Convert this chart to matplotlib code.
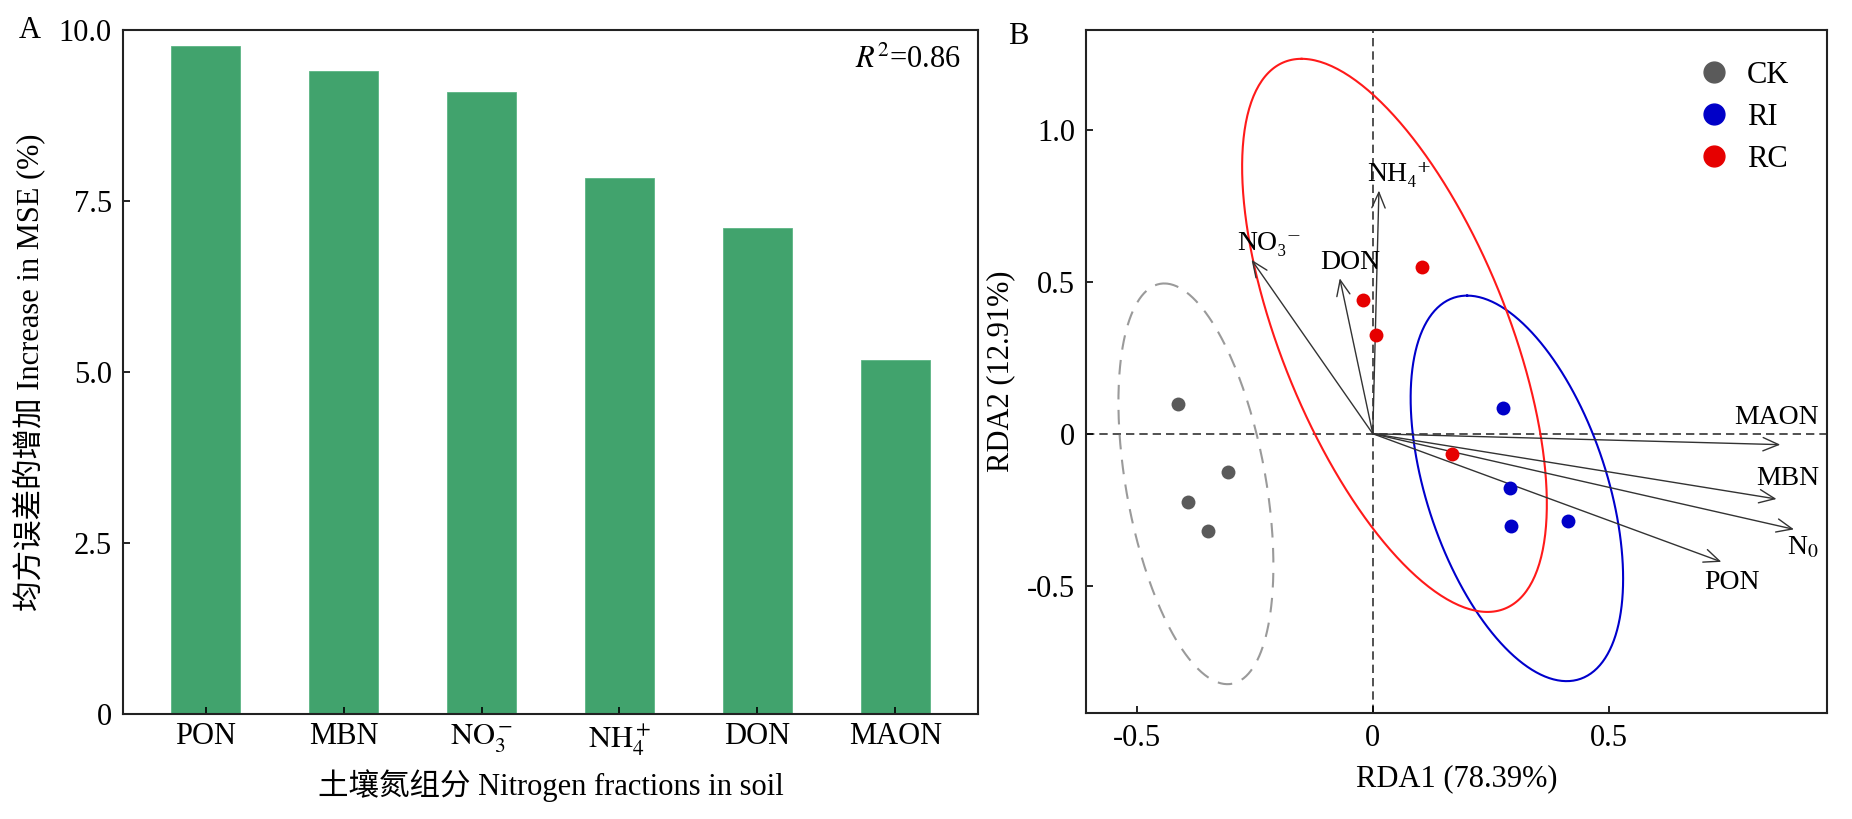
import matplotlib
matplotlib.use("Agg")
import matplotlib.pyplot as plt
from matplotlib.lines import Line2D
import numpy as np

plt.rcParams['font.family'] = ['Liberation Serif', 'DejaVu Serif', 'Noto Sans CJK SC']
plt.rcParams['mathtext.fontset'] = 'stix'
plt.rcParams['axes.unicode_minus'] = False

# panel A: random forest importance
fractions = ['PON', 'MBN', r'$\mathrm{NO_3^-}$', r'$\mathrm{NH_4^+}$', 'DON', 'MAON']
mse_increase = [9.77, 9.40, 9.10, 7.83, 7.11, 5.17]

# panel B: RDA sample scores
ck_x = [-0.413, -0.306, -0.391, -0.349]
ck_y = [0.097, -0.126, -0.225, -0.320]
ri_x = [0.277, 0.290, 0.292, 0.414]
ri_y = [0.085, -0.178, -0.304, -0.289]
rc_x = [-0.021, 0.007, 0.104, 0.169]
rc_y = [0.439, 0.325, 0.550, -0.067]

# environmental arrows (tips) and label positions
env_names = ['NH₄⁺', 'NO₃⁻', 'DON', 'MAON', 'MBN', r'N$_0$', 'PON']
env_x = [0.013, -0.257, -0.070, 0.864, 0.856, 0.893, 0.739]
env_y = [0.801, 0.573, 0.512, -0.036, -0.215, -0.315, -0.422]
lab_x = [0.056, -0.22, -0.047, 0.856, 0.879, 0.911, 0.761]
lab_y = [0.853, 0.628, 0.564, 0.054, -0.149, -0.375, -0.491]

# group ellipses: centre, conjugate half-diameter to the top point, horizontal half-width
ell_cx = [-0.375, 0.3055, 0.046]
ell_cy = [-0.165, -0.18, 0.324]
ell_ux = [-0.067, -0.1055, -0.197]
ell_uy = [0.66, 0.635, 0.911]
ell_h = [0.15, 0.199, 0.256]

groups = ['CK', 'RI', 'RC']
colors = ['#5a5a5a', '#0000c8', '#e60000']
ell_colors = ['#9a9a9a', '#0000cc', '#ff1a1a']

fig = plt.figure(figsize=(18.52, 8.19), dpi=100)
axA = fig.add_axes([0.0664, 0.1282, 0.4617, 0.8352])
axB = fig.add_axes([0.5864, 0.1294, 0.4001, 0.834])

for ax in (axA, axB):
    for s in ax.spines.values():
        s.set_linewidth(1.5)
        s.set_color('#222222')
    ax.tick_params(direction='in', length=5, width=1.2, labelsize=22, pad=8)

# ---- A ----
xpos = np.arange(len(fractions))
axA.bar(xpos, mse_increase, width=0.5, color='#41a36d', edgecolor='#5cb585', linewidth=0.6)
axA.set_xlim(-0.6, 5.6)
axA.set_ylim(0, 10)
axA.set_xticks(xpos)
axA.set_xticklabels(fractions)
axA.set_yticks([0, 2.5, 5.0, 7.5, 10.0])
axA.set_yticklabels(['0', '2.5', '5.0', '7.5', '10.0'])
axA.tick_params(axis='x', pad=6)
axA.set_xlabel('土壤氮组分 Nitrogen fractions in soil', fontsize=22, labelpad=8)
axA.set_ylabel('均方误差的增加 Increase in MSE (%)', fontsize=22, labelpad=10)
axA.text(0.98, 0.955, '$R^2$=0.86', transform=axA.transAxes, ha='right', va='center', fontsize=22)
fig.text(19 / 1852, 1 - 31 / 819, 'A', fontsize=22, ha='left', va='center')

# ---- B ----
t = np.linspace(0, 2 * np.pi, 300)
for i in range(3):
    ex = ell_cx[i] + ell_ux[i] * np.cos(t) + ell_h[i] * np.sin(t)
    ey = ell_cy[i] + ell_uy[i] * np.cos(t)
    ls = (0, (7, 5)) if i == 0 else '-'
    axB.plot(ex, ey, color=ell_colors[i], lw=1.5, ls=ls, zorder=2)

axB.axhline(0, color='#333333', lw=1.2, ls=(0, (5, 3)), zorder=1)
axB.axvline(0, color='#333333', lw=1.2, ls=(0, (5, 3)), zorder=1)

for i in range(len(env_names)):
    axB.annotate('', xy=(env_x[i], env_y[i]), xytext=(0, 0),
                 arrowprops=dict(arrowstyle='->,head_length=0.7,head_width=0.3',
                                 color='#333333', lw=1.0, shrinkA=0, shrinkB=0,
                                 mutation_scale=16), zorder=3)
    axB.text(lab_x[i], lab_y[i], env_names[i], fontsize=20, ha='center', va='center', zorder=4)

for gx, gy, c in zip([ck_x, ri_x, rc_x], [ck_y, ri_y, rc_y], colors):
    axB.scatter(gx, gy, s=100, color=c, zorder=5, linewidths=0)

axB.set_xlim(-0.608, 0.963)
axB.set_ylim(-0.92, 1.33)
axB.set_xticks([-0.5, 0, 0.5])
axB.set_xticklabels(['-0.5', '0', '0.5'])
axB.set_yticks([-0.5, 0, 0.5, 1.0])
axB.set_yticklabels(['-0.5', '0', '0.5', '1.0'])
axB.set_xlabel('RDA1 (78.39%)', fontsize=22, labelpad=8)
axB.set_ylabel('RDA2 (12.91%)', fontsize=22, labelpad=8)

handles = [Line2D([], [], ls='', marker='o', markersize=15, color=c) for c in colors]
axB.legend(handles, groups, loc='upper left', bbox_to_anchor=(0.785, 0.995), frameon=False,
           fontsize=22, handletextpad=0.5, labelspacing=0.42, handlelength=1.2)
fig.text(1008 / 1852, 1 - 37 / 819, 'B', fontsize=22, ha='left', va='center')

fig.savefig('out.png', dpi=100)
